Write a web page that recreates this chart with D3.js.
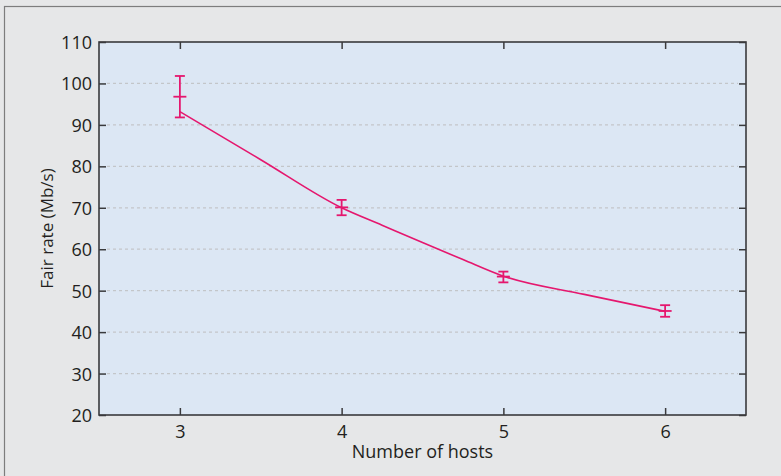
<!DOCTYPE html>
<html>
<head>
<meta charset="utf-8">
<script src="https://cdn.jsdelivr.net/npm/d3@7/dist/d3.min.js"></script>
<style>
  html, body { margin: 0; padding: 0; background: #e6e7e8; }
  svg { display: block; }
  text { font-family: "Open Sans", "Noto Sans", sans-serif; fill: #231f20; }
</style>
</head>
<body>
<svg id="chart" width="781" height="476"></svg>
<script>
// ---- Data ----
const hosts = [3, 4, 5, 6];
const measuredMean = [96.8, 70.1, 53.4, 45.1];
const measuredLow  = [91.8, 68.2, 52.0, 43.7];
const measuredHigh = [101.8, 71.9, 54.6, 46.5];
// model curve
const modelX = [3, 3.5, 4, 4.25, 4.5, 4.75, 5, 5.5, 6];
const modelY = [93.2, 81.6, 70.0, 65.8, 61.6, 57.5, 53.5, 49.1, 45.0];
const xTicks = [3, 4, 5, 6];
const yTicks = [20, 30, 40, 50, 60, 70, 80, 90, 100, 110];
const xLabel = "Number of hosts";
const yLabel = "Fair rate (Mb/s)";

// ---- Layout ----
const svg = d3.select("#chart");
const pL = 99, pR = 746, pT = 42, pB = 415;
const color = "#e5176e";

// outer frame
svg.append("rect").attr("x", 4.5).attr("y", 6.5).attr("width", 820).attr("height", 520)
  .attr("fill", "#e6e7e8").attr("stroke", "#7d7d7d").attr("stroke-width", 1.2);

const x = d3.scaleLinear().domain([2.5, 6.5]).range([pL, pR]);
const y = d3.scaleLinear().domain([20, 110]).range([pB, pT]);

// plot background
svg.append("rect").attr("x", pL).attr("y", pT).attr("width", pR - pL).attr("height", pB - pT)
  .attr("fill", "#dce7f4");

// grid lines
svg.append("g").selectAll("line").data(yTicks.filter(d => d > 20 && d < 110)).join("line")
  .attr("x1", pL + 8).attr("x2", pR - 8)
  .attr("y1", d => y(d)).attr("y2", d => y(d))
  .attr("stroke", "#c3c6c9").attr("stroke-width", 1.3).attr("stroke-dasharray", "3,3");

// axes (ticks inward)
const tickLen = 7;
const axLeft = svg.append("g").attr("transform", `translate(${pL},0)`)
  .call(d3.axisLeft(y).tickValues(yTicks).tickSize(-tickLen).tickPadding(7).tickFormat(d3.format("d")));
const axRight = svg.append("g").attr("transform", `translate(${pR},0)`)
  .call(d3.axisRight(y).tickValues(yTicks).tickSize(-tickLen).tickFormat(""));
const axBottom = svg.append("g").attr("transform", `translate(0,${pB})`)
  .call(d3.axisBottom(x).tickValues(xTicks).tickSize(-tickLen).tickPadding(10).tickFormat(d3.format("d")));
const axTop = svg.append("g").attr("transform", `translate(0,${pT})`)
  .call(d3.axisTop(x).tickValues(xTicks).tickSize(-tickLen).tickFormat(""));

[axLeft, axRight, axBottom, axTop].forEach(g => {
  g.select(".domain").remove();
  g.selectAll(".tick line").attr("stroke", "#3a3a3c").attr("stroke-width", 1.5);
  g.selectAll(".tick text").attr("font-size", 18).attr("fill", "#231f20")
    .attr("font-family", "'Open Sans', sans-serif");
});
axLeft.selectAll(".tick text").attr("dy", "0.36em");

// frame
svg.append("rect").attr("x", pL).attr("y", pT).attr("width", pR - pL).attr("height", pB - pT)
  .attr("fill", "none").attr("stroke", "#3a3a3c").attr("stroke-width", 1.6);

// model curve
const model = modelX.map((d, i) => [d, modelY[i]]);
svg.append("path").datum(model)
  .attr("d", d3.line().x(d => x(d[0])).y(d => y(d[1])).curve(d3.curveMonotoneX))
  .attr("fill", "none").attr("stroke", color).attr("stroke-width", 1.6);

// error bars
const eb = svg.append("g").attr("stroke", color).attr("stroke-width", 1.8);
hosts.forEach((h, i) => {
  const cx = x(h);
  eb.append("line").attr("x1", cx).attr("x2", cx).attr("y1", y(measuredLow[i])).attr("y2", y(measuredHigh[i]));
  eb.append("line").attr("x1", cx - 5).attr("x2", cx + 5).attr("y1", y(measuredLow[i])).attr("y2", y(measuredLow[i]));
  eb.append("line").attr("x1", cx - 5).attr("x2", cx + 5).attr("y1", y(measuredHigh[i])).attr("y2", y(measuredHigh[i]));
  eb.append("line").attr("x1", cx - 6.5).attr("x2", cx + 6.5).attr("y1", y(measuredMean[i])).attr("y2", y(measuredMean[i]));
});

// axis labels
svg.append("text").attr("x", (pL + pR) / 2).attr("y", 458).attr("text-anchor", "middle")
  .attr("font-size", 18).text(xLabel);
svg.append("text").attr("transform", `translate(53,${(pT + pB) / 2}) rotate(-90)`)
  .attr("text-anchor", "middle").attr("font-size", 17).text(yLabel);
</script>
</body>
</html>
